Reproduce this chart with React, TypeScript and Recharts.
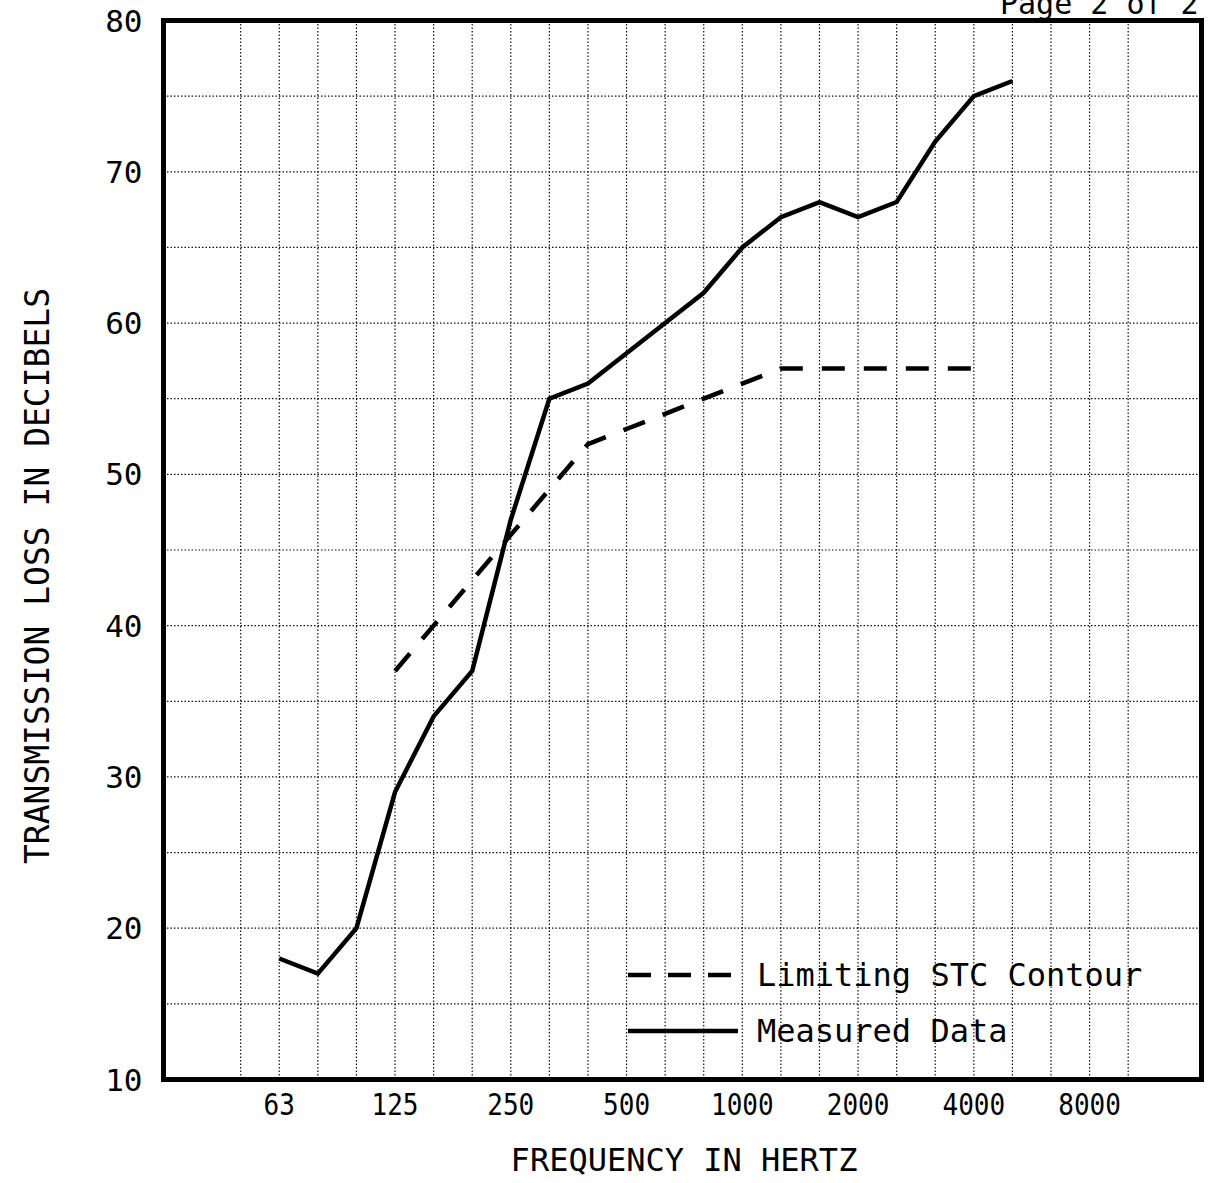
import React from 'react'
import {
  LineChart, Line, XAxis, YAxis, CartesianGrid, ReferenceArea, Legend,
} from 'recharts'

const FONT = "'DejaVu Sans Mono', monospace"

// one-third octave bands shown on the grid
const BANDS = ['50', '63', '80', '100', '125', '160', '200', '250', '315', '400', '500', '630',
  '800', '1000', '1250', '1600', '2000', '2500', '3150', '4000', '5000', '6300', '8000', '10000']
const OCTAVE_LABELS = ['63', '125', '250', '500', '1000', '2000', '4000', '8000']

// measured transmission loss, 63 Hz - 5000 Hz
const MEASURED_BANDS = ['63', '80', '100', '125', '160', '200', '250', '315', '400', '500',
  '630', '800', '1000', '1250', '1600', '2000', '2500', '3150', '4000', '5000']
const MEASURED_TL = [18, 17, 20, 29, 34, 37, 47, 55, 56, 58, 60, 62, 65, 67, 68, 67, 68, 72, 75, 76]

// limiting STC contour, 125 Hz - 4000 Hz
const STC_BANDS = ['125', '160', '200', '250', '315', '400', '500', '630', '800', '1000',
  '1250', '1600', '2000', '2500', '3150', '4000']
const STC_TL = [37, 40, 43, 46, 49, 52, 53, 54, 55, 56, 57, 57, 57, 57, 57, 57]

const Y_TICKS = [10, 15, 20, 25, 30, 35, 40, 45, 50, 55, 60, 65, 70, 75, 80]

const data = BANDS.map((band, i) => {
  const m = MEASURED_BANDS.indexOf(band)
  const s = STC_BANDS.indexOf(band)
  return {
    idx: i,
    band,
    measured: m >= 0 ? MEASURED_TL[m] : undefined,
    stc: s >= 0 ? STC_TL[s] : undefined,
  }
})

// condensed frequency labels, only on octave bands
const XTick = (props: any) => {
  const { x, y, payload } = props
  const band = BANDS[payload.value]
  if (!OCTAVE_LABELS.includes(band)) return null
  return (
    <g transform={`translate(${x},${y})`}>
      <text x={0} y={36} textAnchor="middle" fontFamily={FONT} fontSize={31} fill="#000"
        transform="scale(0.84,1)">
        {band}
      </text>
    </g>
  )
}

const renderLegend = (props: any) => {
  const { payload = [] } = props
  return (
    <div style={{ fontFamily: FONT, fontSize: 32, color: '#000' }}>
      {payload.map((entry: any) => (
        <div key={entry.value} style={{ display: 'flex', alignItems: 'center', height: 56 }}>
          <svg width={110} height={10} style={{ display: 'block' }}>
            <line x1={0} y1={5} x2={110} y2={5} stroke="#000" strokeWidth={4.5}
              strokeDasharray={entry.dataKey === 'stc' ? '23 17' : undefined} />
          </svg>
          <span style={{ marginLeft: 19, whiteSpace: 'nowrap' }}>{entry.value}</span>
        </div>
      ))}
    </div>
  )
}

export default function App() {
  return (
    <div style={{ position: 'absolute', left: 0, top: 0, width: 1208, height: 1183, overflow: 'hidden', background: '#fff' }}>
      <LineChart width={1208} height={1183} data={data}
        margin={{ top: 20.5, right: 6.5, bottom: 63.5, left: 0 }}>
        <CartesianGrid stroke="#111" strokeDasharray="1.5 2" strokeWidth={1.2} />
        <XAxis type="number" dataKey="idx" domain={[-2, 24.9]} ticks={BANDS.map((_, i) => i)}
          interval={0} allowDataOverflow tick={<XTick />} tickLine={false} axisLine={false}
          tickSize={0} tickMargin={0} height={40} />
        <YAxis type="number" domain={[10, 80]} ticks={Y_TICKS} interval={0} width={163.5}
          tickFormatter={(v: number) => (v % 10 === 0 ? String(v) : '')}
          tick={{ fontSize: 31, fill: '#000', fontFamily: FONT }}
          tickLine={false} axisLine={false} tickSize={0} tickMargin={21} />
        <ReferenceArea x1={-2} x2={24.9} y1={10} y2={80} fill="none" stroke="#000"
          strokeWidth={5} ifOverflow="visible" />
        <Line type="linear" dataKey="stc" name="Limiting STC Contour" stroke="#000" strokeWidth={4.5}
          strokeDasharray="23 19" dot={false} activeDot={false} connectNulls={false} isAnimationActive={false} />
        <Line type="linear" dataKey="measured" name="Measured Data" stroke="#000" strokeWidth={4.5}
          dot={false} activeDot={false} connectNulls={false} isAnimationActive={false} />
        <Legend layout="horizontal" verticalAlign="middle" align="center" content={renderLegend}
          wrapperStyle={{ left: 628, top: 947, width: 570 }} />
      </LineChart>

      <div style={{ position: 'absolute', left: 37, top: 576, transform: 'translate(-50%,-50%) rotate(-90deg)',
        fontFamily: FONT, fontSize: 33, whiteSpace: 'nowrap', color: '#000' }}>
        TRANSMISSION LOSS IN DECIBELS
      </div>
      <div style={{ position: 'absolute', left: 684, top: 1160, transform: 'translate(-50%,-50%)',
        fontFamily: FONT, fontSize: 32, whiteSpace: 'nowrap', color: '#000' }}>
        FREQUENCY IN HERTZ
      </div>
      <div style={{ position: 'absolute', left: 1000, top: -11, fontFamily: FONT, fontSize: 30,
        lineHeight: '30px', whiteSpace: 'nowrap', color: '#000' }}>
        Page 2 of 2
      </div>
    </div>
  )
}
